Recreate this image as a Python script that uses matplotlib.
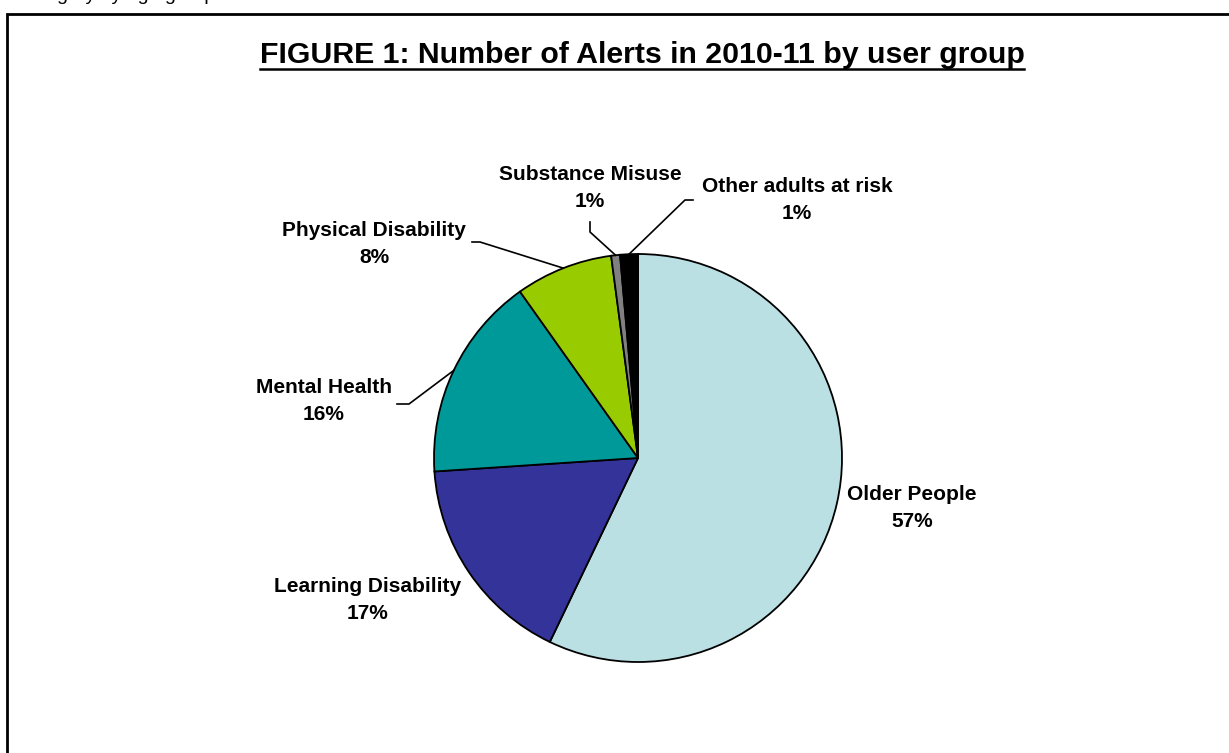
import numpy as np
import matplotlib.pyplot as plt
from matplotlib.patches import Rectangle

plt.rcParams['font.family'] = ['Liberation Sans', 'DejaVu Sans']

groups = ['Older People', 'Learning Disability', 'Mental Health',
          'Physical Disability', 'Substance Misuse', 'Other adults at risk']
alerts = [570, 168, 162, 77, 7, 14]
colours = ['#BBE0E3', '#333399', '#009999', '#99CC00', '#808080', '#000000']

W, H = 1229, 753


def px(x, y):
    # pixel position measured from the top-left corner -> data coords
    return x, H - y


# label anchors (pixels) and leader line elbow points
label_pos = [(912, 508), (368, 600), (324, 401), (374, 244), (590, 188), (797, 200)]
elbows = [None, None, [(397, 404), (409, 404)], [(472, 242), (480, 242)],
          [(590, 222), (590, 232)], [(693, 200), (685, 200)]]

fig = plt.figure(figsize=(W / 100, H / 100), dpi=100)
ax = fig.add_axes([0, 0, 1, 1])

# outer frame (runs off the right and bottom edges)
ax.add_patch(Rectangle(px(7, H + 20), W + 20, H + 6, fill=False, lw=2, ec='black'))
ax.text(*px(20, 0), 'category by age group', fontsize=14, va='baseline', ha='left')

title = ax.text(*px(642, 55), 'FIGURE 1: Number of Alerts in 2010-11 by user group',
                fontsize=21.8, fontweight='bold', ha='center', va='center')

cx, cy = px(638, 458)
r = 204
wedges, _ = ax.pie(alerts, colors=colours, startangle=90, counterclock=False,
                   center=(cx, cy), radius=r, frame=True,
                   wedgeprops=dict(edgecolor='black', linewidth=1.3))
ax.set_xlim(0, W)
ax.set_ylim(0, H)
ax.set_aspect('equal')
ax.axis('off')

total = sum(alerts)
for w, name, n, pos, elb in zip(wedges, groups, alerts, label_pos, elbows):
    pct = round(100 * n / total)
    ax.text(*px(*pos), f'{name}\n{pct}%', fontsize=15, fontweight='bold',
            ha='center', va='center', linespacing=1.55)
    if elb is not None:
        mid = np.deg2rad((w.theta1 + w.theta2) / 2)
        ex, ey = cx + r * np.cos(mid), cy + r * np.sin(mid)
        pts = [px(*p) for p in elb]
        xs = [p[0] for p in pts] + [ex]
        ys = [p[1] for p in pts] + [ey]
        ax.plot(xs, ys, color='black', lw=1.2)

# underline the title across its own width
fig.canvas.draw()
bb = title.get_window_extent().transformed(ax.transData.inverted())
ax.plot([bb.x0, bb.x1], [H - 69, H - 69], color='black', lw=1.8)

fig.savefig('out.png', dpi=100)
